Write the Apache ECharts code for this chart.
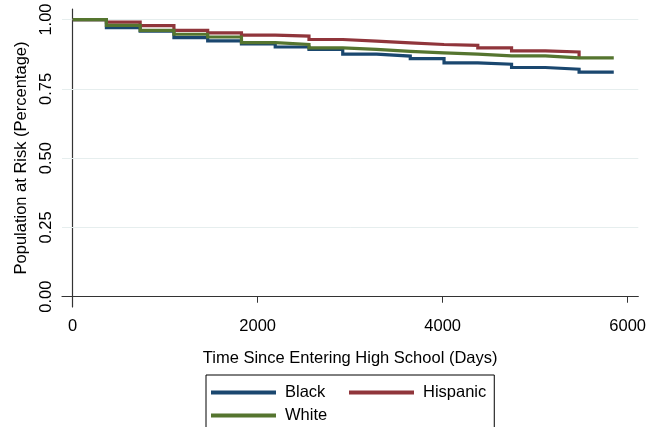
<!DOCTYPE html>
<html>
<head>
<meta charset="utf-8">
<script src="https://cdn.jsdelivr.net/npm/echarts@6/dist/echarts.min.js"></script>
<style>
html,body{margin:0;padding:0;background:#fff;}
#chart{width:649px;height:427px;}
</style>
</head>
<body>
<div id="chart"></div>
<script>
// Step times (days) where survival changes
const stepDays = [0, 365, 730, 1095, 1460, 1825, 2190, 2555, 2920, 3285, 3650, 4015, 4380, 4745, 5110, 5475];
const endDayMain = 5850;
const endDayHispanic = 5475;

const blackValues =    [1.0, 0.971, 0.958, 0.935, 0.923, 0.912, 0.901, 0.892, 0.875, 0.868, 0.859, 0.844, 0.839, 0.827, 0.821, 0.810];
const hispanicValues = [1.0, 0.991, 0.978, 0.961, 0.952, 0.944, 0.940, 0.928, 0.922, 0.916, 0.910, 0.907, 0.898, 0.887, 0.883, 0.862];
const whiteValues =    [1.0, 0.979, 0.961, 0.947, 0.937, 0.917, 0.910, 0.898, 0.892, 0.885, 0.880, 0.875, 0.869, 0.869, 0.862, 0.862];

const seriesNames = ['Black', 'Hispanic', 'White'];
const seriesColors = ['#1a476f', '#90353b', '#55752f'];

const xTicks = [0, 2000, 4000, 6000];
const yTicks = [0, 0.25, 0.5, 0.75, 1.0];
const yGridTicks = [0.25, 0.5, 0.75, 1.0];

// Build explicit step-function vertices (horizontal then vertical)
function buildSteps(days, values, endDay) {
  const pts = [[days[0], values[0]]];
  for (let i = 1; i < values.length; i++) {
    if (days[i] > endDay) break;
    pts.push([days[i], values[i - 1]]);
    pts.push([days[i], values[i]]);
  }
  const last = pts[pts.length - 1];
  if (last[0] < endDay) pts.push([endDay, last[1]]);
  return pts;
}

const blackData = buildSteps(stepDays, blackValues, endDayMain);
const hispanicData = buildSteps(stepDays, hispanicValues, endDayHispanic);
const whiteData = buildSteps(stepDays, whiteValues, endDayMain);

const font = 'Liberation Sans, Arial, sans-serif';
const fs = 16.5;

const chart = echarts.init(document.getElementById('chart'), null, {renderer: 'canvas'});

function lineSeries(name, data, color, extra) {
  return Object.assign({
    name: name,
    type: 'line',
    data: data,
    showSymbol: false,
    symbol: 'none',
    animation: false,
    lineStyle: {color: color, width: 3.2, join: 'miter', cap: 'butt'},
    itemStyle: {color: color}
  }, extra || {});
}

chart.setOption({
  animation: false,
  backgroundColor: '#ffffff',
  grid: {left: 62, right: 8, top: 9, bottom: 120},
  xAxis: {
    type: 'value',
    min: -115,
    max: 6115,
    name: 'Time Since Entering High School (Days)',
    nameLocation: 'middle',
    nameGap: 43,
    nameTextStyle: {fontFamily: font, fontSize: fs, color: '#000'},
    axisLine: {show: true, lineStyle: {color: '#333', width: 1.2}},
    axisTick: {show: true, length: 6, customValues: xTicks, lineStyle: {color: '#333'}},
    axisLabel: {customValues: xTicks, margin: 11, fontFamily: font, fontSize: fs, color: '#000',
      formatter: v => String(v)},
    splitLine: {show: false}
  },
  yAxis: {
    type: 'value',
    min: -0.037,
    max: 1.038,
    name: 'Population at Risk (Percentage)',
    nameLocation: 'middle',
    nameGap: 29,
    nameTextStyle: {fontFamily: font, fontSize: fs, color: '#000'},
    axisLine: {show: true, lineStyle: {color: '#333', width: 1.2}},
    axisTick: {show: true, length: 6, customValues: yTicks, lineStyle: {color: '#333'}},
    axisLabel: {
      customValues: yTicks, rotate: 90, margin: 7, fontFamily: font, fontSize: fs, color: '#000',
      formatter: v => v.toFixed(2)
    },
    splitLine: {show: false}
  },
  legend: {
    left: 206,
    top: 375,
    width: 280,
    orient: 'horizontal',
    padding: [9, 8, 30, 5],
    itemGap: 6,
    itemWidth: 65,
    itemHeight: 4,
    icon: 'rect',
    borderColor: '#000',
    borderWidth: 1,
    borderRadius: 0,
    textStyle: {fontFamily: font, fontSize: fs, color: '#000', width: 58, lineHeight: 13, padding: [0, 0, 0, 4]},
    data: seriesNames
  },
  series: [
    lineSeries(seriesNames[0], blackData, seriesColors[0], {
      markLine: {
        silent: true, symbol: 'none', animation: false, z: 1,
        label: {show: false},
        lineStyle: {color: '#e6eeee', width: 1, type: 'solid'},
        data: yGridTicks.map(v => ({yAxis: v}))
      }
    }),
    lineSeries(seriesNames[1], hispanicData, seriesColors[1]),
    lineSeries(seriesNames[2], whiteData, seriesColors[2])
  ]
});
</script>
</body>
</html>
